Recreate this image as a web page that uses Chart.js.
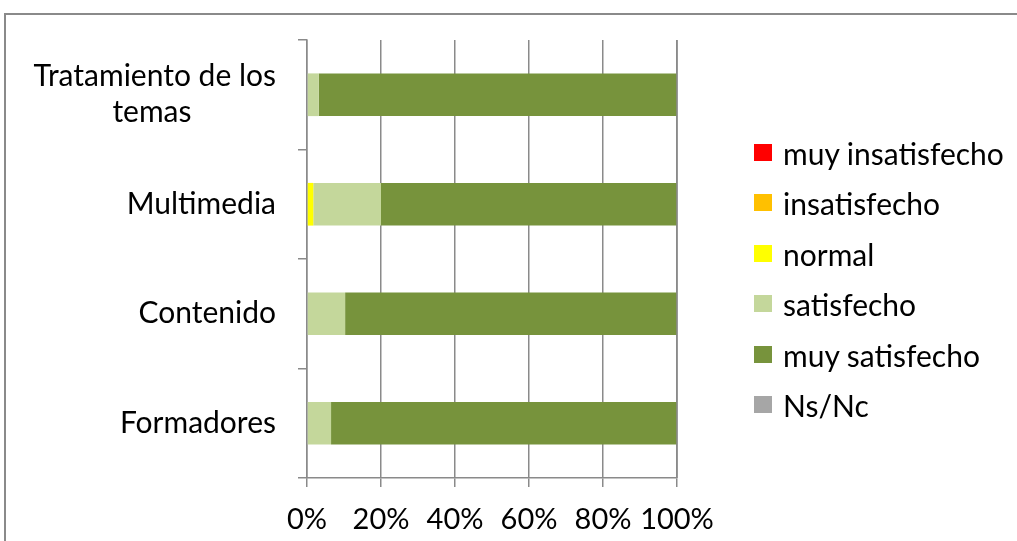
<!DOCTYPE html>
<html>
<head>
<meta charset="utf-8">
<script src="https://cdn.jsdelivr.net/npm/chart.js@4.4.0/dist/chart.umd.min.js"></script>
<style>
  html, body { margin: 0; padding: 0; background: #fff; }
  #wrap { position: relative; width: 1017px; height: 541px; overflow: hidden; }
  #frame { position: absolute; left: 4px; top: 13px; width: 1100px; height: 600px;
           border-top: 2px solid #8a8a8a; border-left: 2px solid #8a8a8a; box-sizing: border-box; }
  #chart { position: absolute; left: 0; top: 0; }
  #legend { position: absolute; left: 754px; top: 0; font-family: Lato, sans-serif; font-size: 30px; color: #000; }
  .item { position: absolute; left: 0; white-space: nowrap; height: 36px; line-height: 36px; }
  .box { position: absolute; left: 0; top: 9px; width: 18px; height: 17px; }
  .txt { position: absolute; left: 29px; top: 0; }
</style>
</head>
<body>
<div id="wrap">
  <div id="frame"></div>
  <canvas id="chart" width="1017" height="541"></canvas>
  <div id="legend"></div>
</div>
<script>
// categories, top to bottom
const categories = [['Tratamiento de los', 'temas' + '\u00a0'.repeat(11)], 'Multimedia', 'Contenido', 'Formadores'];

// series values (% of answers)
const muyInsatisfecho = [0, 0, 0, 0];
const insatisfecho = [0, 0, 0, 0];
const normal = [0, 1.7, 0, 0];
const satisfecho = [3.2, 18.3, 10.3, 6.5];
const muySatisfecho = [96.8, 80, 89.7, 93.5];
const nsNc = [0, 0, 0, 0];

const seriesNames = ['muy insatisfecho', 'insatisfecho', 'normal', 'satisfecho', 'muy satisfecho', 'Ns/Nc'];
const seriesColors = ['#ff0000', '#ffc000', '#ffff00', '#c4d79b', '#77933c', '#a6a6a6'];
const seriesData = [muyInsatisfecho, insatisfecho, normal, satisfecho, muySatisfecho, nsNc];

// x axis ticks
const xTicks = [0, 20, 40, 60, 80, 100];

const axisColor = '#8a8a8a';
const font = { family: 'Lato, sans-serif', size: 30 };

// draw the 100% line over the bar ends, like the original
const edgeLine = {
    id: 'edgeLine',
    afterDatasetsDraw(chart) {
        const { ctx, chartArea, scales } = chart;
        const x = scales.x.getPixelForValue(100);
        ctx.save();
        ctx.strokeStyle = axisColor;
        ctx.lineWidth = 1.5;
        ctx.beginPath();
        ctx.moveTo(x, chartArea.top);
        ctx.lineTo(x, chartArea.bottom);
        ctx.stroke();
        ctx.restore();
    }
};

const chart = new Chart(document.getElementById('chart'), {
    type: 'bar',
    data: {
        labels: categories,
        datasets: seriesNames.map((name, i) => ({
            label: name,
            data: seriesData[i],
            backgroundColor: seriesColors[i],
            borderWidth: 0,
            categoryPercentage: 1,
            barPercentage: 0.39
        }))
    },
    options: {
        indexAxis: 'y',
        responsive: false,
        animation: false,
        layout: { padding: { top: 37, right: 340, bottom: 0, left: 0 } },
        plugins: {
            legend: { display: false },
            tooltip: { enabled: false }
        },
        scales: {
            x: {
                stacked: true,
                min: 0,
                max: 100,
                afterBuildTicks: scale => { scale.ticks = xTicks.map(v => ({ value: v })); },
                afterFit: scale => { scale.height = 63; },
                ticks: {
                    color: '#000',
                    font: { family: 'Lato, sans-serif', size: 29 },
                    padding: 15,
                    maxRotation: 0,
                    autoSkip: false,
                    callback: v => v + '%'
                },
                grid: { color: axisColor, lineWidth: 1.5, tickLength: 9 },
                border: { color: axisColor, width: 1.5 }
            },
            y: {
                stacked: true,
                afterFit: scale => { scale.width = 307; },
                ticks: { color: '#000', font: font, padding: 22 },
                grid: { color: axisColor, lineWidth: 1.5, tickLength: 9, drawOnChartArea: false, offset: true },
                border: { color: axisColor, width: 1.5 }
            }
        }
    },
    plugins: [edgeLine]
});

// legend
const legend = document.getElementById('legend');
seriesNames.forEach((name, i) => {
    const item = document.createElement('div');
    item.className = 'item';
    item.style.top = (153 + i * 50.4 - 18) + 'px';
    item.innerHTML = `<span class="box" style="background:${seriesColors[i]}"></span><span class="txt">${name}</span>`;
    legend.appendChild(item);
});
</script>
</body>
</html>
